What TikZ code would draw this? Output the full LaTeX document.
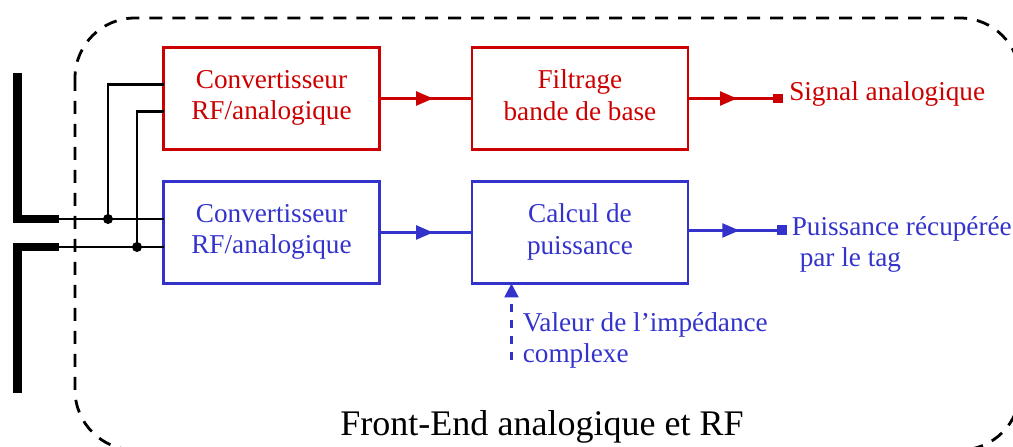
\documentclass[tikz,border=0pt]{standalone}
\usepackage{fontspec}
\setmainfont{Liberation Serif}
\usepackage{tikz}
\usetikzlibrary{arrows.meta, calc, positioning, decorations.markings}
\definecolor{rfred}{RGB}{204,0,0}
\definecolor{rfblue}{RGB}{51,51,204}

\begin{document}
\begin{tikzpicture}[x=0.02cm, y=-0.02cm, node distance=1.85cm,
    bloc/.style={draw, line width=1.6pt, outer sep=0pt, minimum width=4.32cm, minimum height=2.04cm, align=center, font=\fontsize{15.5}{17.8}\selectfont,
      execute at begin node={\rule{0pt}{14pt}}, execute at end node={\rule[-4pt]{0pt}{4pt}}},
    lbl/.style={align=left, inner sep=0pt, anchor=base west, font=\fontsize{15.5}{17.8}\selectfont},
    fil/.style={line width=1.3pt},
    midarrow/.style={postaction={decorate}, decoration={markings, mark=at position 0.58 with {\arrow{Triangle[length=0.34cm, width=0.28cm]}}}},
    sortie/.style={fill, inner sep=0pt, minimum size=0.2cm},
    jonction/.style={circle, fill, inner sep=0pt, minimum size=0.2cm},
    antenne/.style={line width=5pt}]
    \useasboundingbox (0,0) rectangle (1013,446);
    \draw[line width=1.6pt, dash pattern=on 0.26cm off 0.2cm, rounded corners=1.2cm] (75,18) rectangle (1020,450);
    \node[anchor=base, font=\fontsize{20.5}{24}\selectfont] (titre) at (542,435) {Front-End analogique et RF};

    \node[bloc, draw=rfred, text=rfred] (convR) at (271.5,98.5) {Convertisseur\\RF/analogique};
    \node[bloc, draw=rfred, text=rfred, right=of convR] (filtre) {Filtrage\\bande de base};
    \node[bloc, draw=rfblue, text=rfblue, below=0.64cm of convR] (convB) {Convertisseur\\RF/analogique};
    \node[bloc, draw=rfblue, text=rfblue, right=of convB] (calcul) {Calcul de\\puissance};

    \draw[rfred, fil, midarrow] (convR.east) -- (filtre.west);
    \draw[rfblue, fil, midarrow] (convB.east) -- (calcul.west);

    \node[sortie, rfred] (sigR) at ($(filtre.east)+(90,0)$) {};
    \node[lbl, text=rfred] (sigLbl) at ($(sigR)+(11,2)$) {Signal analogique};
    \draw[rfred, fil, midarrow] (filtre.east) -- (sigR);
    \node[sortie, rfblue] (puisB) at ($(calcul.east)+(94,-2)$) {};
    \node[lbl, text=rfblue] (puisLbl) at ($(puisB)+(9.5,36.5)$) {Puissance récupérée\\\hspace{0.16cm}par le tag};
    \draw[rfblue, fil, midarrow] (calcul.east |- puisB) -- (puisB);

    \coordinate (zin) at ($(calcul.south west)+(39.5,77)$);
    \draw[rfblue, fil, dash pattern=on 0.16cm off 0.16cm, -{Triangle[length=0.28cm, width=0.28cm]}] (zin) -- (zin |- calcul.south);
    \node[lbl, text=rfblue] (zLbl) at ($(zin)+(11,2.5)$) {Valeur de l'impédance\\complexe};

    \coordinate (antA) at (17.5,73);
    \coordinate (antB) at (17.5,393);
    \coordinate (feedA) at (59,219);
    \coordinate (feedB) at (59,247);
    \draw[antenne] (antA) |- (feedA);
    \draw[antenne] (feedB) -| (antB);
    \draw[fil] (feedA) -- (feedA -| convB.west);
    \draw[fil] (feedB) -- (feedB -| convB.west);

    \node[jonction] (jA) at (108,219) {};
    \node[jonction] (jB) at (137,247) {};
    \coordinate (entreeA) at ($(convR.north west)+(0,37)$);
    \coordinate (entreeB) at ($(convR.north west)+(0,64)$);
    \draw[fil] (jA.center) |- (entreeA);
    \draw[fil] (jB.center) |- (entreeB);
\end{tikzpicture}
\end{document}
